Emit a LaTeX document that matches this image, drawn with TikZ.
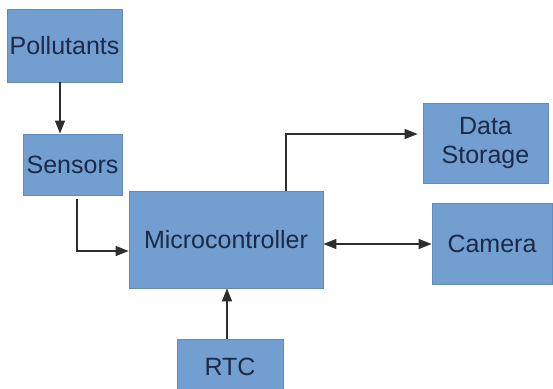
\documentclass[tikz,border=0pt]{standalone}
\usepackage{fontspec}
\setmainfont{Liberation Sans}
\usepackage{tikz}
\usetikzlibrary{arrows.meta}

\definecolor{boxblue}{HTML}{729FCF}
\definecolor{boxedge}{HTML}{5F8BBF}
\definecolor{textnavy}{HTML}{1B2A48}
\definecolor{wire}{HTML}{2E2E2E}

\begin{document}
\begin{tikzpicture}[x=0.5pt, y=-0.5pt, >={Triangle[length=6.5pt,width=5pt]}]
\tikzstyle{every node} = [rectangle]
\tikzstyle{block} = [fill=boxblue, draw=boxedge, line width=0.4pt, text=textnavy, inner sep=0pt, align=center, font=\fontsize{12.5}{14.5}\selectfont]
\tikzstyle{wire} = [draw=wire, line width=0.6pt]
\useasboundingbox (0,0) rectangle (553,389);

\node[block, minimum width=57.5pt, minimum height=36.5pt] (pollutants) at (64.5, 45.5) {Pollutants};
\node[block, minimum width=49.5pt, minimum height=30.5pt] (sensors) at (72.5, 164.5) {Sensors};
\node[block, minimum width=97pt, minimum height=48.5pt] (micro) at (226, 239.5) {Microcontroller};
\node[block, minimum width=62.5pt, minimum height=40pt] (storage) at (485.5, 143) {Data\\Storage};
\node[block, minimum width=60pt, minimum height=40.5pt] (camera) at (492, 243.5) {Camera};
\node[block, minimum width=53pt, minimum height=28pt] (rtc) at (230, 367) {RTC};

\draw [wire, ->] ([xshift=-2.25pt]pollutants.south) -- ([xshift=-2.25pt]pollutants.south |- sensors.north);
\draw [wire, ->] ([xshift=2.25pt, yshift=-2pt]sensors.south) |- ([yshift=-5.75pt]micro.west);
\draw [wire, ->] ([xshift=30pt]micro.north) |- ([xshift=-2.5pt, yshift=4.5pt]storage.west);
\draw [wire, <->] ([yshift=-2.25pt]micro.east) -- ([yshift=-2.25pt]micro.east -| camera.west);
\draw [wire, ->] ([xshift=-1.5pt]rtc.north) -- ([xshift=-1.5pt]rtc.north |- micro.south);
\end{tikzpicture}
\end{document}
